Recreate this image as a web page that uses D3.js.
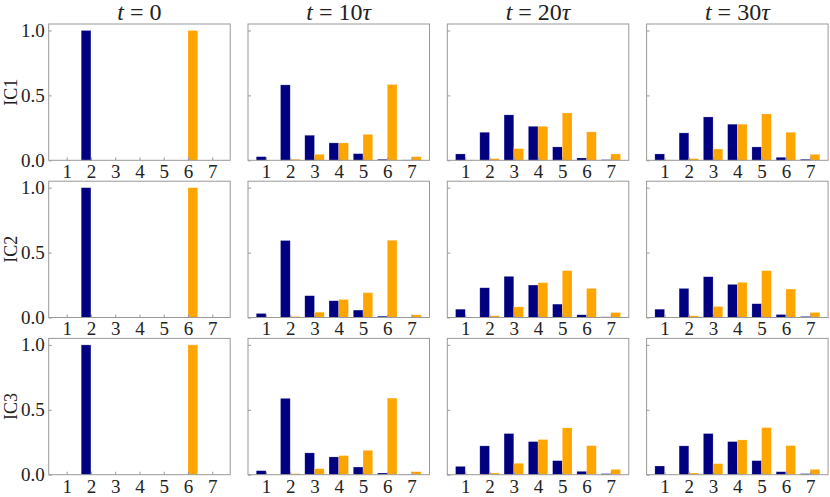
<!DOCTYPE html>
<html>
<head>
<meta charset="utf-8">
<script src="https://cdn.jsdelivr.net/npm/d3@7"></script>
<style>
  html, body { margin: 0; padding: 0; background: #fff; }
  svg { display: block; }
  text { font-family: "Liberation Serif", "DejaVu Serif", serif; fill: #222; }
</style>
</head>
<body>
<svg id="chart" width="830" height="497"></svg>
<script>
// ---- data ----
const categories = [1, 2, 3, 4, 5, 6, 7];
const rowLabels = ["IC1", "IC2", "IC3"];
const timeLabels = ["0", "10", "20", "30"];   // t = 0, 10τ, 20τ, 30τ
const yTicks = [0.0, 0.5, 1.0];

// navy series per row, per time column
const navyIC1 = [
  [0, 1.0, 0, 0, 0, 0, 0],
  [0.028, 0.581, 0.193, 0.134, 0.051, 0.008, 0.003],
  [0.049, 0.216, 0.350, 0.262, 0.103, 0.018, 0.005],
  [0.049, 0.211, 0.334, 0.278, 0.103, 0.023, 0.008]
];
const orangeIC1 = [
  [0, 0, 0, 0, 0, 1.0, 0],
  [0.001, 0.008, 0.046, 0.134, 0.200, 0.584, 0.028],
  [0.003, 0.013, 0.090, 0.262, 0.365, 0.219, 0.049],
  [0.003, 0.013, 0.087, 0.278, 0.357, 0.216, 0.046]
];
const navyIC2 = [
  [0, 1.0, 0, 0, 0, 0, 0],
  [0.031, 0.593, 0.168, 0.129, 0.057, 0.010, 0.003],
  [0.064, 0.229, 0.317, 0.250, 0.103, 0.021, 0.005],
  [0.064, 0.224, 0.314, 0.255, 0.106, 0.023, 0.008]
];
const orangeIC2 = [
  [0, 0, 0, 0, 0, 1.0, 0],
  [0.001, 0.008, 0.041, 0.139, 0.191, 0.595, 0.021],
  [0.002, 0.013, 0.082, 0.268, 0.361, 0.224, 0.039],
  [0.002, 0.013, 0.085, 0.271, 0.361, 0.219, 0.039]
];
const navyIC3 = [
  [0, 1.0, 0, 0, 0, 0, 0],
  [0.031, 0.588, 0.168, 0.137, 0.059, 0.013, 0.003],
  [0.064, 0.222, 0.317, 0.255, 0.108, 0.026, 0.008],
  [0.067, 0.222, 0.317, 0.255, 0.108, 0.023, 0.008]
];
const orangeIC3 = [
  [0, 0, 0, 0, 0, 1.0, 0],
  [0.001, 0.008, 0.046, 0.147, 0.188, 0.590, 0.023],
  [0.002, 0.013, 0.088, 0.271, 0.361, 0.224, 0.041],
  [0.002, 0.013, 0.085, 0.268, 0.363, 0.224, 0.041]
];
const navyRows = [navyIC1, navyIC2, navyIC3];
const orangeRows = [orangeIC1, orangeIC2, orangeIC3];

// ---- layout ----
const colLeft0 = 48.7, colStep = 199.3, panelW = 181.5;
const rowTop0 = 24, rowStep = 157.2, panelH = 136.3;
const barW = 0.4;
const navyColor = "#000080", orangeColor = "#FFA500", spineColor = "#999999";
const fontFam = '"Liberation Serif", "DejaVu Serif", serif';

const svg = d3.select("#chart");

const x = d3.scaleLinear().domain([0.26, 7.74]).range([0, panelW]);
const y = d3.scaleLinear().domain([0, 1.05]).range([panelH, 0]);

rowLabels.forEach((rowLabel, r) => {
  timeLabels.forEach((tl, c) => {
    const g = svg.append("g")
      .attr("transform", `translate(${colLeft0 + c * colStep},${rowTop0 + r * rowStep})`);

    const navy = navyRows[r][c];
    const orange = orangeRows[r][c];

    // bars
    g.selectAll("rect.navy").data(categories).join("rect")
      .attr("class", "navy")
      .attr("x", d => x(d - barW))
      .attr("width", d => x(d) - x(d - barW))
      .attr("y", (d, i) => y(navy[i]))
      .attr("height", (d, i) => y(0) - y(navy[i]))
      .attr("fill", navyColor)
      .attr("stroke", "#ffffff").attr("stroke-opacity", 0.35).attr("stroke-width", 0.6);

    g.selectAll("rect.orange").data(categories).join("rect")
      .attr("class", "orange")
      .attr("x", d => x(d))
      .attr("width", d => x(d + barW) - x(d))
      .attr("y", (d, i) => y(orange[i]))
      .attr("height", (d, i) => y(0) - y(orange[i]))
      .attr("fill", orangeColor)
      .attr("stroke", "#ffffff").attr("stroke-opacity", 0.35).attr("stroke-width", 0.6);

    // x axis
    const xAxis = d3.axisBottom(x).tickValues(categories)
      .tickFormat(d3.format("d")).tickSizeInner(-3).tickSizeOuter(0).tickPadding(4.5);
    const gx = g.append("g").attr("transform", `translate(0,${panelH})`).call(xAxis);
    gx.select(".domain").remove();
    gx.selectAll(".tick line").attr("stroke", spineColor);
    gx.selectAll(".tick text")
      .attr("font-family", fontFam)
      .attr("font-size", 19).attr("fill", "#222");

    // y axis
    const yAxis = d3.axisLeft(y).tickValues(yTicks)
      .tickSizeInner(-3).tickSizeOuter(0).tickPadding(4)
      .tickFormat(c === 0 ? d3.format(".1f") : () => "");
    const gy = g.append("g").call(yAxis);
    gy.select(".domain").remove();
    gy.selectAll(".tick line").attr("stroke", spineColor);
    gy.selectAll(".tick text")
      .attr("font-family", fontFam)
      .attr("font-size", 19).attr("fill", "#222");

    // frame
    g.append("rect")
      .attr("x", 0).attr("y", 0).attr("width", panelW).attr("height", panelH)
      .attr("fill", "none").attr("stroke", spineColor).attr("stroke-width", 1);

    // titles on top row
    if (r === 0) {
      const t = g.append("text")
        .attr("x", panelW / 2).attr("y", -4)
        .attr("text-anchor", "middle")
        .attr("font-size", 24);
      t.append("tspan").attr("font-style", "italic").text("t");
      t.append("tspan").text(" = " + tl);
      if (tl !== "0") t.append("tspan").attr("font-style", "italic").text("τ");
    }

    // row labels
    if (c === 0) {
      g.append("text")
        .attr("transform", `translate(${16.5 - colLeft0},${panelH / 2}) rotate(-90)`)
        .attr("text-anchor", "middle")
        .attr("font-size", 18)
        .text(rowLabel);
    }
  });
});
</script>
</body>
</html>
